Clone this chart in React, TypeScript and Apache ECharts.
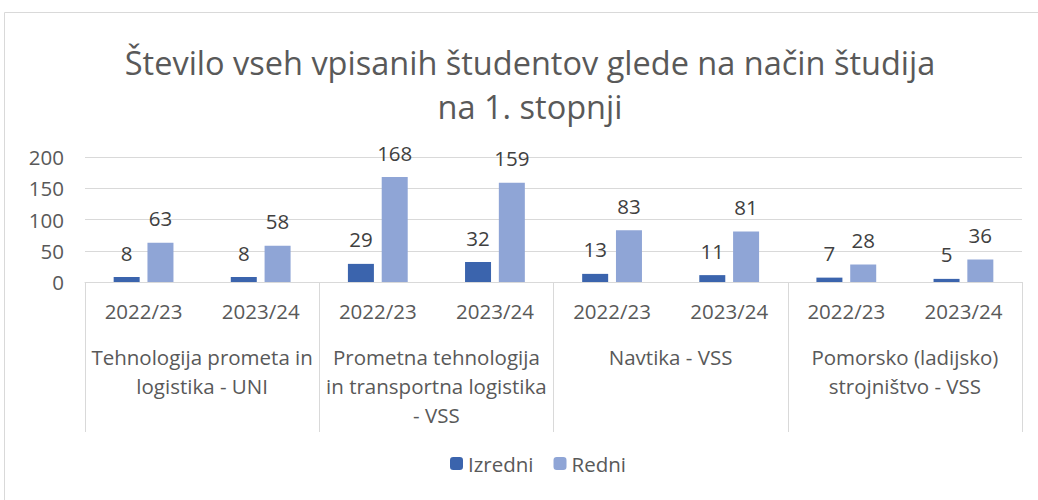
import React, { useEffect, useRef } from "react";
import * as echarts from "echarts";

const title = "Število vseh vpisanih študentov glede na način študija\nna 1. stopnji";
const years = ["2022/23", "2023/24", "2022/23", "2023/24", "2022/23", "2023/24", "2022/23", "2023/24"];
const groups = [
  "Tehnologija prometa in\nlogistika - UNI",
  "Prometna tehnologija\nin transportna logistika\n- VSS",
  "Navtika - VSS",
  "Pomorsko (ladijsko)\nstrojništvo - VSS",
];
const seriesNames = ["Izredni", "Redni"];
const izredni = [8, 8, 29, 32, 13, 11, 7, 5];
const redni = [63, 58, 168, 159, 83, 81, 28, 36];
const yTicks = { min: 0, max: 200, interval: 50 };

const FONT = "'Open Sans', 'Noto Sans', sans-serif";
const TXT = "#595959";
const GRID = "#d9d9d9";
const FS = 20.5;

export default function App() {
  const ref = useRef<HTMLDivElement>(null);
  useEffect(() => {
    const chart = echarts.init(ref.current!, null, { renderer: "svg" });
    chart.setOption({
      animation: false,
      backgroundColor: "#fff",
      textStyle: { fontFamily: FONT },
      legend: {
        bottom: 21,
        left: 445,
        itemWidth: 13,
        itemHeight: 13,
        itemGap: 20,
        itemStyle: { borderWidth: 0 },
        textStyle: { fontFamily: FONT, fontSize: FS, color: TXT },
        data: seriesNames,
      },
      grid: { left: 85, right: 16, top: 157, bottom: 218 },
      xAxis: [
        {
          type: "category",
          data: years,
          axisLine: { show: true, lineStyle: { color: GRID } },
          axisTick: { show: false },
          axisLabel: { fontFamily: FONT, fontSize: FS, color: TXT, margin: 18, interval: 0 },
        },
        {
          type: "category",
          data: groups,
          position: "bottom",
          axisLine: { show: false },
          axisTick: { show: true, length: 150, lineStyle: { color: GRID } },
          axisLabel: { fontFamily: FONT, fontSize: FS, color: TXT, margin: 60, interval: 0, lineHeight: 29, verticalAlign: "top" },
        },
      ],
      yAxis: {
        type: "value",
        min: yTicks.min,
        max: yTicks.max,
        interval: yTicks.interval,
        axisLine: { show: false },
        axisTick: { show: false },
        splitLine: { lineStyle: { color: GRID } },
        axisLabel: { fontFamily: FONT, fontSize: FS, color: TXT, margin: 21 },
      },
      series: [
        {
          name: seriesNames[0],
          type: "bar",
          data: izredni,
          barWidth: 26,
          barGap: "30%",
          itemStyle: { color: "#3B64AD" },
          label: { show: true, position: "top", distance: 14, fontFamily: FONT, fontSize: FS, color: "#404040" },
        },
        {
          name: seriesNames[1],
          type: "bar",
          data: redni,
          barWidth: 26,
          itemStyle: { color: "#8FA5D6" },
          label: { show: true, position: "top", distance: 14, fontFamily: FONT, fontSize: FS, color: "#404040" },
        },
      ],
      graphic: [
        {
          type: "rect",
          shape: { x: 4.5, y: 12.5, width: 1100, height: 600 },
          style: { fill: "none", stroke: GRID, lineWidth: 1 },
          silent: true,
        },
        {
          type: "text",
          x: 530,
          y: 40,
          silent: true,
          style: {
            text: title,
            align: "center",
            verticalAlign: "top",
            fontFamily: FONT,
            fontSize: 32.5,
            lineHeight: 44,
            fill: TXT,
          },
        },
      ],
    });
    return () => chart.dispose();
  }, []);
  return <div ref={ref} style={{ position: "absolute", left: 0, top: 0, width: 1038, height: 500 }} />;
}
